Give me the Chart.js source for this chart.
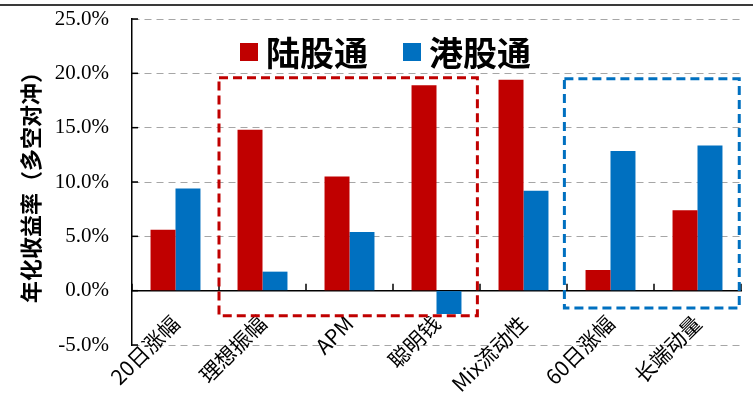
<!DOCTYPE html>
<html><head><meta charset="utf-8">
<script src="https://cdn.jsdelivr.net/npm/chart.js@4/dist/chart.umd.min.js"></script>
<style>html,body{margin:0;padding:0;background:#fff;overflow:hidden}#wrap{width:753px;height:399px;position:relative}</style>
</head><body><div id="wrap"><canvas id="c"></canvas></div>
<script>
const categories = ['20日涨幅', '理想振幅', 'APM', '聪明钱', 'Mix流动性', '60日涨幅', '长端动量'];
const seriesNames = ['陆股通', '港股通'];
const luguTong = [5.6, 14.8, 10.5, 18.9, 19.4, 1.9, 7.4];
const ganguTong = [9.4, 1.75, 5.4, -2.15, 9.2, 12.85, 13.35];
const yMin = -5, yMax = 25, yStep = 5;
const yTitle = '年化收益率（多空对冲）';

const RED = '#C00000', BLUE = '#0070C0';

const decor = {
  id: 'decor',
  beforeDraw(chart) {
    const ctx = chart.ctx;
    ctx.save();
    ctx.fillStyle = '#fff';
    ctx.fillRect(0, 0, chart.width, chart.height);
    ctx.strokeStyle = '#3a3a3a';
    ctx.lineWidth = 2;
    ctx.beginPath(); ctx.moveTo(0, 5); ctx.lineTo(chart.width, 5); ctx.stroke();
    ctx.restore();
  },
  afterDatasetsDraw(chart) {
    const ctx = chart.ctx, x = chart.scales.x, y = chart.scales.y;
    const w = x.getPixelForValue(1) - x.getPixelForValue(0);
    const px = u => x.getPixelForValue(0) + u * w;
    ctx.save();
    ctx.strokeStyle = '#000'; ctx.lineWidth = 1.5;
    y.ticks.forEach(t => {
      const py = y.getPixelForValue(t.value);
      ctx.beginPath(); ctx.moveTo(y.right, py); ctx.lineTo(y.right + 6, py); ctx.stroke();
    });
    const y0 = y.getPixelForValue(0);
    for (let i = 0; i <= categories.length; i++) {
      const p = px(i - 0.5);
      ctx.beginPath(); ctx.moveTo(p, y0); ctx.lineTo(p, y0 - 7); ctx.stroke();
    }
    const boxes = [
      {from: 0.5, to: 3.47, top: 19.6, bottom: -2.3, color: RED},
      {from: 4.47, to: 6.48, top: 19.5, bottom: -1.6, color: BLUE}
    ];
    ctx.lineWidth = 3;
    ctx.setLineDash([9, 5]);
    boxes.forEach(b => {
      ctx.strokeStyle = b.color;
      const l = px(b.from), r = px(b.to), t = y.getPixelForValue(b.top), bt = y.getPixelForValue(b.bottom);
      ctx.strokeRect(l, t, r - l, bt - t);
    });
    ctx.setLineDash([]);
    const items = [{x: 240, y: 43}, {x: 403, y: 43}];
    ctx.font = 'bold 34px "Noto Sans CJK SC"';
    ctx.textBaseline = 'middle';
    ctx.textAlign = 'left';
    chart.data.datasets.forEach((ds, i) => {
      const it = items[i];
      ctx.fillStyle = ds.backgroundColor;
      ctx.fillRect(it.x, it.y, 18, 18);
      ctx.fillStyle = '#000';
      ctx.fillText(ds.label, it.x + 26, it.y + 10);
    });
    ctx.restore();
  }
};

new Chart(document.getElementById('c'), {
  type: 'bar',
  data: {
    labels: categories,
    datasets: [
      {label: seriesNames[0], data: luguTong, backgroundColor: RED},
      {label: seriesNames[1], data: ganguTong, backgroundColor: BLUE}
    ]
  },
  options: {
    responsive: true,
    maintainAspectRatio: false,
    animation: false,
    layout: {padding: {left: 0, right: 12, top: 19, bottom: 54}},
    datasets: {bar: {categoryPercentage: 0.574, barPercentage: 1.0, borderWidth: 0}},
    plugins: {legend: {display: false}, tooltip: {enabled: false}},
    scales: {
      x: {
        type: 'category',
        position: {y: 0},
        offset: true,
        grid: {display: false, offset: true},
        border: {display: true, color: '#000', width: 1.5},
        ticks: {
          color: '#000',
          font: {family: '"Noto Sans CJK SC"', size: 21},
          minRotation: 45, maxRotation: 45, autoSkip: false, padding: 12
        }
      },
      y: {
        min: yMin, max: yMax,
        afterFit(s) { s.width = 132; },
        grid: {
          drawTicks: true,
          tickLength: 20,
          tickColor: 'rgba(0,0,0,0)',
          color: c => (c.tick && c.tick.value === 0) ? 'rgba(0,0,0,0)' : '#A6A6A6',
          lineWidth: 1
        },
        border: {display: true, color: '#000', width: 1.5, dash: [7, 5]},
        ticks: {
          stepSize: yStep,
          padding: 3,
          color: '#000',
          font: {family: '"Liberation Serif"', size: 21},
          callback: v => v.toFixed(1) + '%'
        },
        title: {
          display: true, text: yTitle, color: '#000',
          font: {family: '"Noto Sans CJK SC"', size: 22, weight: 'bold'},
          padding: {top: 17, bottom: 0}
        }
      }
    }
  },
  plugins: [decor]
});
</script></body></html>
